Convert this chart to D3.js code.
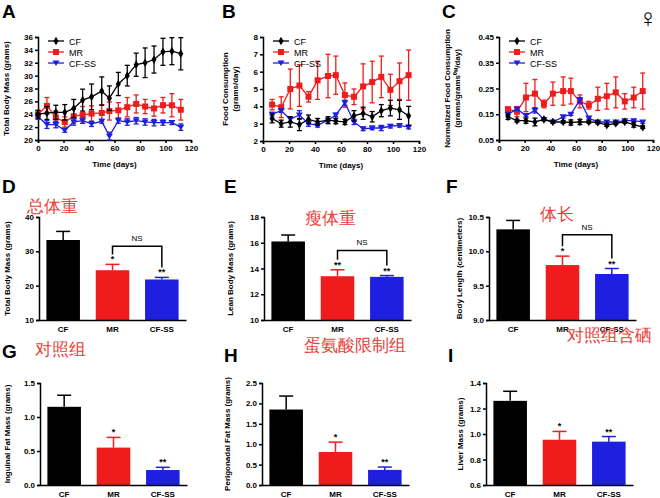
<!DOCTYPE html>
<html><head><meta charset="utf-8">
<script src="https://cdn.jsdelivr.net/npm/d3@7"></script>
<style>body{margin:0;background:#fff}text{font-family:"Liberation Sans",Arial,sans-serif}</style>
</head><body><svg id="c" width="660" height="498"></svg>
<script>
const groups = ["CF","MR","CF-SS"];
const colors = ["#000000","#ee1c1c","#1f1fe0"];
const daysA = [0,7,14,21,28,35,42,50,56,63,70,77,84,91,98,105,112];
const daysB = [7,14,21,28,35,42,50,56,63,70,77,84,91,98,105,112];
const aCF = [24.0,24.2,24.3,24.3,24.9,26.2,26.7,27.6,26.5,28.7,30.0,31.7,32.0,32.5,33.7,33.8,33.4];
const aCFe = [0.6,1.0,1.1,1.2,1.4,1.7,2.0,2.2,1.9,1.8,1.6,1.8,2.3,2.1,2.1,2.1,2.5];
const aMR = [24.0,25.3,23.5,22.8,23.7,23.9,24.1,24.2,24.5,24.6,25.1,25.6,25.2,24.9,25.4,25.4,24.7];
const aMRe = [0.6,1.3,1.0,0.8,1.1,1.3,1.2,1.3,1.4,1.2,1.5,1.4,1.1,1.2,1.2,1.8,1.6];
const aSS = [23.6,22.4,22.4,21.5,22.8,23.0,22.5,22.9,20.6,23.0,22.8,23.0,22.8,22.7,22.7,22.7,22.0];
const aSSe = [0.4,0.6,0.5,0.3,0.5,0.4,0.4,0.3,0.6,0.4,0.5,0.5,0.5,0.5,0.4,0.3,0.5];
const bCF = [3.3,3.0,3.1,2.95,3.25,3.1,3.2,3.15,3.1,3.45,3.6,3.4,3.75,3.9,3.8,3.45];
const bCFe = [0.25,0.2,0.3,0.35,0.25,0.2,0.2,0.15,0.15,0.3,0.35,0.3,0.35,0.45,0.55,0.55];
const bMR = [4.1,3.95,5.0,5.2,4.55,5.5,5.75,5.8,4.65,4.55,5.15,5.4,5.7,4.95,5.45,5.8];
const bMRe = [0.3,0.6,1.15,1.2,0.3,1.1,1.25,1.1,0.7,0.45,1.3,1.2,1.2,0.9,1.05,1.45];
const bSS = [3.55,3.75,3.25,3.5,3.0,2.9,3.2,3.5,4.2,3.1,2.7,2.75,2.75,2.85,2.9,2.8];
const bSSe = [0.1,0.1,0.15,0.25,0.15,0.1,0.1,0.1,0.15,0.15,0.1,0.1,0.15,0.1,0.1,0.1];
const cCF = [0.14,0.125,0.125,0.12,0.13,0.12,0.12,0.118,0.12,0.12,0.118,0.108,0.115,0.12,0.11,0.10];
const cCFe = [0.01,0.005,0.01,0.015,0.005,0.005,0.005,0.01,0.01,0.005,0.005,0.005,0.005,0.005,0.01,0.005];
const cMR = [0.17,0.16,0.215,0.23,0.19,0.23,0.24,0.24,0.2,0.185,0.21,0.22,0.235,0.2,0.215,0.24];
const cMRe = [0.005,0.02,0.055,0.055,0.015,0.045,0.055,0.05,0.025,0.015,0.045,0.05,0.06,0.03,0.04,0.07];
const cSS = [0.15,0.17,0.145,0.165,0.13,0.12,0.14,0.15,0.205,0.135,0.12,0.12,0.12,0.125,0.125,0.12];
const cSSe = [0.005,0.005,0.005,0.01,0.005,0.005,0.005,0.005,0.01,0.005,0.005,0.005,0.005,0.005,0.005,0.005];
const barD = [33.3,24.5,21.8], barDe=[2.5,1.7,0.6];
const barE = [16.1,13.4,13.35], barEe=[0.5,0.5,0.1];
const barF = [10.32,9.80,9.67], barFe=[0.13,0.13,0.08];
const barG = [1.15,0.55,0.22], barGe=[0.17,0.15,0.04];
const barH = [1.85,0.81,0.37], barHe=[0.33,0.24,0.07];
const barI = [1.26,0.955,0.94], barIe=[0.075,0.065,0.04];
const stars = ["","*","**"];
const starsD = ["","*","**"], starsE=["","**","**"], starsF=["","*","**"];

const svg = d3.select("#c");
function letter(t,x,y){svg.append("text").attr("x",x).attr("y",y).attr("font-size",19).attr("font-weight","bold").text(t);}
function cn(t,x,y){svg.append("text").attr("x",x).attr("y",y).attr("font-size",17).attr("fill","#e8413a").attr("font-family","Noto Sans CJK SC").text(t);}
function styleAxis(g){g.selectAll("path,line").attr("stroke","#000").attr("stroke-width",1.5);g.selectAll("text").attr("font-size",8).attr("font-weight","bold").attr("font-family","Liberation Sans,Arial");}
function ylab(lines,x,cy){const t=svg.append("text").attr("transform",`translate(${x},${cy}) rotate(-90)`).attr("text-anchor","middle").attr("font-size",8).attr("font-weight","bold");
 lines.forEach((l,i)=>t.append("tspan").attr("x",0).attr("dy",i?9.5:0).text(l));}

function marker(g,type,x,y,c){
 if(type===0) g.append("path").attr("d",d3.symbol(d3.symbolDiamond,22)()).attr("transform",`translate(${x},${y})`).attr("fill",c);
 else if(type===1) g.append("rect").attr("x",x-3).attr("y",y-3).attr("width",6).attr("height",6).attr("fill",c);
 else g.append("path").attr("d",`M${x-3.5},${y-2.5}L${x+3.5},${y-2.5}L${x},${y+3}Z`).attr("fill",c);
}
function linePanel(o){
 const x=d3.scaleLinear().domain([0,120]).range([o.x0,o.x1]);
 const y=d3.scaleLinear().domain(o.yd).range([o.y1,o.y0]);
 const gx=svg.append("g").attr("transform",`translate(0,${o.y1})`).call(d3.axisBottom(x).tickValues([0,20,40,60,80,100,120]).tickSize(3).tickPadding(2));styleAxis(gx);
 const gy=svg.append("g").attr("transform",`translate(${o.x0},0)`).call(d3.axisLeft(y).tickValues(o.ticks).tickFormat(o.fmt).tickSize(3).tickPadding(2));styleAxis(gy);
 [1,2,0].forEach(k=>{
  const vals=o.series[k],errs=o.errs[k],c=colors[k],g=svg.append("g");
  g.append("path").datum(vals).attr("fill","none").attr("stroke",c).attr("stroke-width",1.3)
   .attr("d",d3.line().x((d,i)=>x(o.days[i])).y(d=>y(d)));
  vals.forEach((v,i)=>{const xx=x(o.days[i]);
   g.append("line").attr("x1",xx).attr("x2",xx).attr("y1",y(v+errs[i])).attr("y2",y(v-errs[i])).attr("stroke",c).attr("stroke-width",1.3);
   [v+errs[i],v-errs[i]].forEach(e=>g.append("line").attr("x1",xx-2.5).attr("x2",xx+2.5).attr("y1",y(e)).attr("y2",y(e)).attr("stroke",c).attr("stroke-width",1.3));
   marker(g,k,xx,y(v),c);});
 });
 groups.forEach((n,k)=>{const ly=o.y0+4+k*11, lx=o.x0+10;
  svg.append("line").attr("x1",lx).attr("x2",lx+16).attr("y1",ly).attr("y2",ly).attr("stroke",colors[k]).attr("stroke-width",1.3);
  marker(svg,k,lx+8,ly,colors[k]);
  svg.append("text").attr("x",lx+21).attr("y",ly+3.5).attr("font-size",9).text(n);});
 svg.append("text").attr("x",(o.x0+o.x1)/2).attr("y",o.y1+27).attr("text-anchor","middle").attr("font-size",8).attr("font-weight","bold").text("Time (days)");
 ylab(o.ylab,o.ylx,(o.y0+o.y1)/2);
}
linePanel({x0:38,x1:191,y0:37,y1:140,yd:[20,36],ticks:d3.range(20,37,2),fmt:d3.format("d"),days:daysA,series:[aCF,aMR,aSS],errs:[aCFe,aMRe,aSSe],ylab:["Total Body Mass (grams)"],ylx:9});
linePanel({x0:263,x1:419,y0:37,y1:141,yd:[2,8],ticks:d3.range(2,9,1),fmt:d3.format("d"),days:daysB,series:[bCF,bMR,bSS],errs:[bCFe,bMRe,bSSe],ylab:["Food Consumption","(grams/day)"],ylx:228});
linePanel({x0:499,x1:653,y0:37,y1:140,yd:[0.05,0.45],ticks:[0.05,0.15,0.25,0.35,0.45],fmt:d3.format(".2f"),days:daysB,series:[cCF,cMR,cSS],errs:[cCFe,cMRe,cSSe],ylab:["Normalized Food Consumption","(grams/grams\u2070\u1d39/day)"],ylx:450});

function barPanel(o){
 const x=d3.scaleBand().domain(groups).range([o.x0,o.x0+147]).paddingInner(0.32).paddingOuter(0.15);
 const y=d3.scaleLinear().domain(o.yd).range([o.y1,o.y0]);
 o.vals.forEach((v,i)=>{const c=colors[i],xx=x(groups[i]),w=x.bandwidth(),cx=xx+w/2;
  svg.append("line").attr("x1",cx).attr("x2",cx).attr("y1",y(v)).attr("y2",y(v+o.errs[i])).attr("stroke",c).attr("stroke-width",1.5);
  svg.append("line").attr("x1",cx-7).attr("x2",cx+7).attr("y1",y(v+o.errs[i])).attr("y2",y(v+o.errs[i])).attr("stroke",c).attr("stroke-width",1.5);
  svg.append("rect").attr("x",xx).attr("y",y(v)).attr("width",w).attr("height",y(o.yd[0])-y(v)).attr("fill",c);
  if(o.stars[i]) svg.append("text").attr("x",cx).attr("y",y(v+o.errs[i])-2).attr("text-anchor","middle").attr("font-size",9).attr("font-weight","bold").text(o.stars[i]);
 });
 const gx=svg.append("g").attr("transform",`translate(0,${o.y1})`).call(d3.axisBottom(x).tickSize(0).tickPadding(6));styleAxis(gx);
 const gy=svg.append("g").attr("transform",`translate(${o.x0},0)`).call(d3.axisLeft(y).tickValues(o.ticks).tickFormat(o.fmt).tickSize(3).tickPadding(2));styleAxis(gy);
 if(o.br!=null){const a=x("MR")+x.bandwidth()/2,b=x("CF-SS")+x.bandwidth()/2,by=y(o.br);
  svg.append("path").attr("d",`M${a},${y(o.vals[1]+o.errs[1])-10}V${by}H${b}V${y(o.vals[2]+o.errs[2])-10}`).attr("fill","none").attr("stroke","#000").attr("stroke-width",1.5);
  svg.append("text").attr("x",(a+b)/2).attr("y",by-5).attr("text-anchor","middle").attr("font-size",8).text("NS");}
 ylab([o.ylab],o.ylx,(o.y0+o.y1)/2);
}
barPanel({x0:39,y0:217,y1:320,yd:[10,40],ticks:[10,20,30,40],fmt:d3.format("d"),vals:barD,errs:barDe,stars:starsD,br:31.5,ylab:"Total Body Mass (grams)",ylx:10});
barPanel({x0:264,y0:217,y1:320,yd:[10,18],ticks:[10,12,14,16,18],fmt:d3.format("d"),vals:barE,errs:barEe,stars:starsE,br:15.4,ylab:"Lean Body Mass (grams)",ylx:233});
barPanel({x0:489,y0:217,y1:320,yd:[9,10.5],ticks:[9,9.5,10,10.5],fmt:d3.format(".1f"),vals:barF,errs:barFe,stars:starsF,br:10.24,ylab:"Body Length (centimeters)",ylx:462});
barPanel({x0:40,y0:383,y1:485,yd:[0,1.5],ticks:[0,0.5,1,1.5],fmt:d3.format(".1f"),vals:barG,errs:barGe,stars:stars,br:null,ylab:"Inguinal Fat Mass (grams)",ylx:10});
barPanel({x0:262,y0:383,y1:485,yd:[0,2.5],ticks:[0,0.5,1,1.5,2,2.5],fmt:d3.format(".1f"),vals:barH,errs:barHe,stars:stars,br:null,ylab:"Perigonadal Fat Mass (grams)",ylx:230});
barPanel({x0:486,y0:383,y1:485,yd:[0.6,1.4],ticks:[0.6,0.8,1.0,1.2,1.4],fmt:d3.format(".1f"),vals:barI,errs:barIe,stars:stars,br:null,ylab:"Liver Mass (grams)",ylx:463});

letter("A",2,18);letter("B",222,18);letter("C",442,18);
letter("D",2,193);letter("E",224,193);letter("F",446,193);
letter("G",2,358);letter("H",224,362);letter("I",448,362);
svg.append("text").attr("x",648).attr("y",27).attr("text-anchor","middle").attr("font-size",26).text("\u2640");
cn("总体重",27,212);cn("瘦体重",305,224);cn("体长",540,220);
cn("对照组",35,355);cn("蛋氨酸限制组",304,351);cn("对照组含硒",567,341);
</script></body></html>
